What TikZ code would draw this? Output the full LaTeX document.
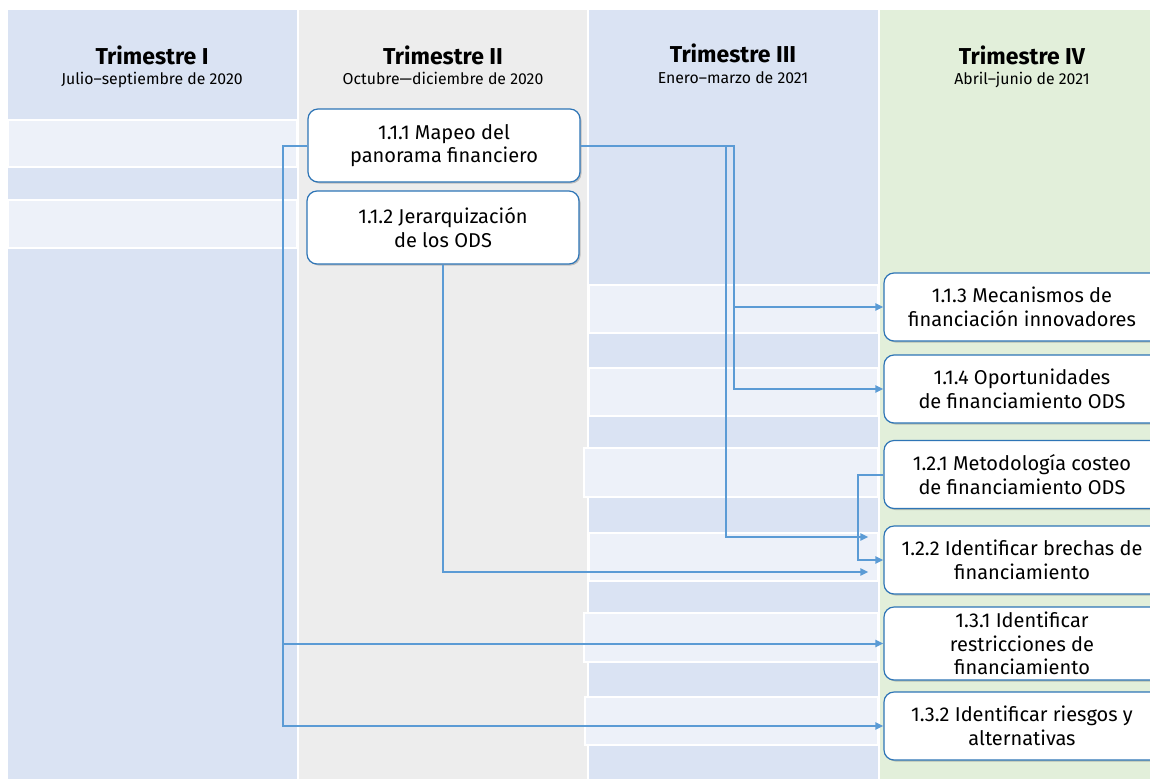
\documentclass[tikz,border=0pt]{standalone}
\usepackage{fontspec}
\setmainfont{Fira Sans}
\usetikzlibrary{arrows.meta,shadows}
\definecolor{colblue}{HTML}{DAE3F3}
\definecolor{colgray}{HTML}{EDEDED}
\definecolor{colgreen}{HTML}{E2EFDA}
\definecolor{bandblue}{HTML}{EDF1F9}
\definecolor{linkblue}{HTML}{5B9BD5}
\definecolor{boxedge}{HTML}{2E75B6}
\begin{document}
\begin{tikzpicture}[x=1pt,y=-1pt,
		task/.style={draw=boxedge,line width=1.2pt,fill=white,rounded corners=10pt,minimum width=272pt,minimum height=68pt,align=center,inner sep=2pt,font=\fontsize{20}{23.5}\selectfont,drop shadow={shadow xshift=1.5pt,shadow yshift=-1.5pt,opacity=0.35,fill=black!60}},
		band/.style={fill=bandblue,draw=white,line width=1.5pt},
		link/.style={draw=linkblue,line width=2pt,-{Triangle[length=8pt,width=7pt]}},
		qtitle/.style={anchor=base,font=\fontsize{23}{27}\selectfont\bfseries},
		qsub/.style={anchor=base,font=\fontsize{15.8}{19}\selectfont}]
				\useasboundingbox (0,0) rectangle (1150,779);
				\clip (0,0) rectangle (1150,779);
				% columns
				\fill[colblue] (8,10) rectangle (297,779);
				\fill[colgray] (299,10) rectangle (587,779);
				\fill[colblue] (589,10) rectangle (878,779);
				\fill[colgreen] (880,10) rectangle (1160,779);
				% bands
				\draw[band] (8,120) rectangle (297,167);
				\draw[band] (8,200) rectangle (297,248);
				\draw[band] (589,285) rectangle (878,333);
				\draw[band] (589,368) rectangle (878,416);
				\draw[band] (584,448) rectangle (878,497);
				\draw[band] (589,533) rectangle (878,581);
				\draw[band] (584,613) rectangle (878,662);
				\draw[band] (585,697) rectangle (878,745);
				% headers
				\node[qtitle] (t1) at (152,64) {Trimestre I};
				\node[qsub] (s1) at (152,84) {Julio–septiembre de 2020};
				\node[qtitle] (t2) at (443,64) {Trimestre II};
				\node[qsub] (s2) at (443,84) {Octubre—diciembre de 2020};
				\node[qtitle] (t3) at (733,62) {Trimestre III};
				\node[qsub] (s3) at (733,83) {Enero–marzo de 2021};
				\node[qtitle] (t4) at (1022,64) {Trimestre IV};
				\node[qsub] (s4) at (1022,84) {Abril–junio de 2021};
				% tasks
				\node[task,minimum height=73pt] (n111) at (444,145.5) {1.1.1 Mapeo del\\panorama financiero};
				\node[task,minimum height=73pt] (n112) at (443,227.5) {1.1.2 Jerarquización\\de los ODS};
				\node[task,minimum width=276pt] (n113) at (1022,307) {1.1.3 Mecanismos de\\financiación innovadores};
				\node[task,minimum width=276pt] (n114) at (1022,389) {1.1.4 Oportunidades\\de financiamiento ODS};
				\node[task,minimum width=276pt] (n121) at (1022,474.5) {1.2.1 Metodología costeo\\de financiamiento ODS};
				\node[task,minimum width=276pt] (n122) at (1022,560) {1.2.2 Identificar brechas de\\financiamiento};
				\node[task,minimum width=276pt,minimum height=73pt] (n131) at (1022,643.5) {1.3.1 Identificar\\restricciones de\\financiamiento};
				\node[task,minimum width=276pt] (n132) at (1022,726) {1.3.2 Identificar riesgos y\\alternativas};
				% links
				\draw[link] (n111.east) -- ++(153,0) |- (n113.west);
				\draw[link] (n111.east) -- ++(153,0) |- (n114.west);
				\draw[link,shorten >=15pt] (n111.east) -- ++(145,0) |- ([yshift=23pt]n122.west);
				\draw[link] (n111.west) -- ++(-24,0) |- (n131.west);
				\draw[link] (n111.west) -- ++(-24,0) |- (n132.west);
				\draw[link,shorten >=15pt] (n112.south) |- ([yshift=-12pt]n122.west);
				\draw[link] (n121.west) -- ++(-25,0) |- (n122.west);
			\end{tikzpicture}
\end{document}
